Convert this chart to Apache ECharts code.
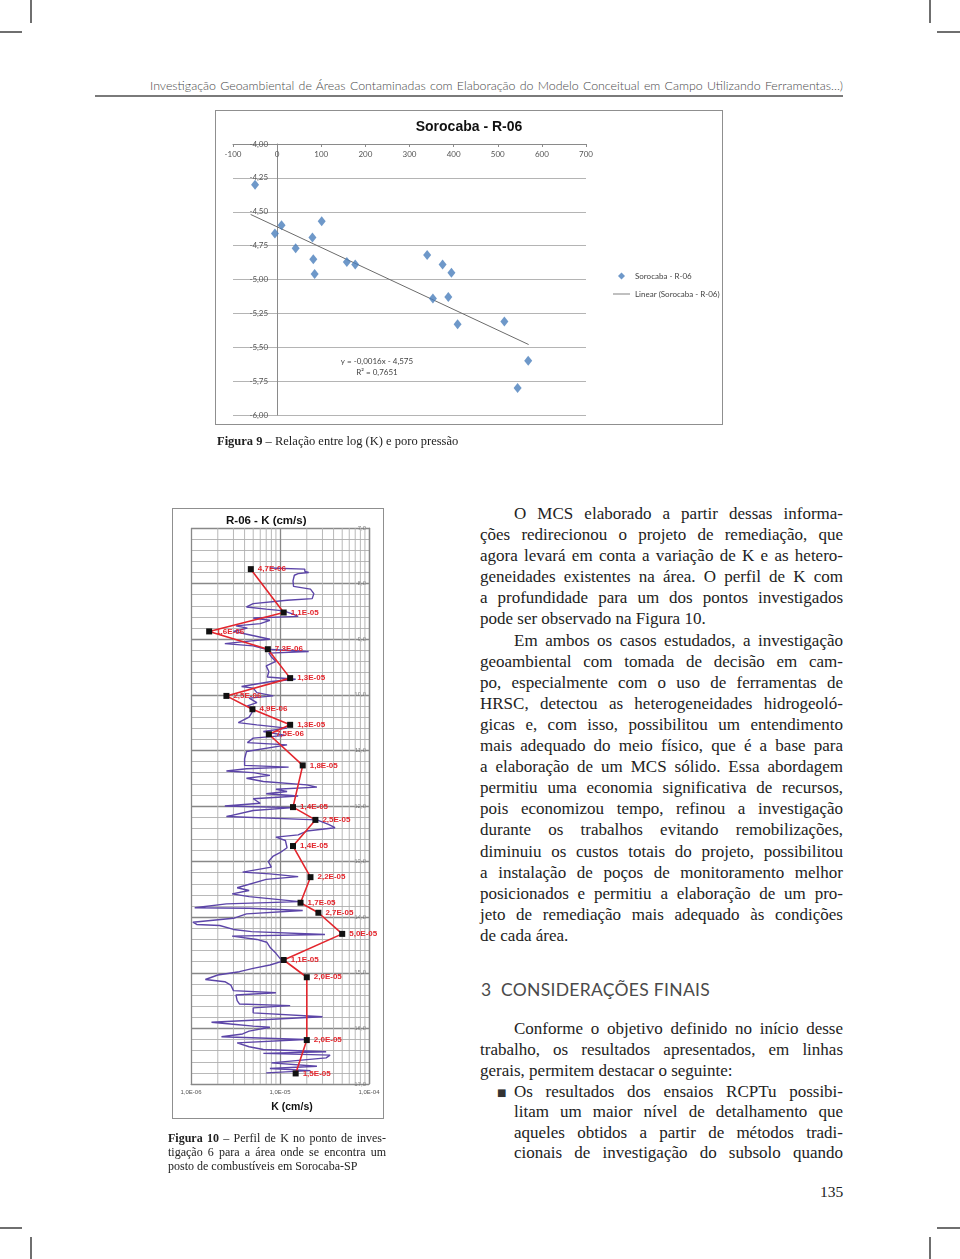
<!DOCTYPE html>
<html lang="pt-BR">
<head>
<meta charset="utf-8">
<title>Figura 9 e Figura 10 - Sorocaba R-06</title>
<script src="https://cdn.jsdelivr.net/npm/echarts@6/dist/echarts.min.js"></script>
<style>
html, body { margin: 0; padding: 0; background: #fff; }
#page { position: relative; width: 960px; height: 1259px; overflow: hidden; font-family: "Liberation Serif", serif; color: #222; }
.crop { position: absolute; background: #6f6f6f; }
#cabecalho { position: absolute; left: 150px; top: 78px; width: 693px; font-family: Lato, sans-serif; font-weight: 300; font-size: 12.4px; color: #4a4a4a; text-align: justify; text-align-last: justify; }
#regua { position: absolute; left: 95px; top: 95px; width: 748px; height: 1.5px; background: #7a7a7a; }
.grafico { position: absolute; }
.caixa { position: absolute; border: 1.5px solid #8f8f8f; box-sizing: border-box; pointer-events: none; }
#leg9 { position: absolute; left: 217px; top: 434px; font-size: 12.5px; }
#leg10 { position: absolute; left: 168px; top: 1131px; width: 218px; font-size: 12px; line-height: 14px; }
#leg10 div, .texto div { text-align: justify; text-align-last: justify; }
.texto { position: absolute; left: 480px; width: 363px; font-size: 17px; line-height: 21.1px; }
.texto .ind { text-indent: 34px; }
.texto .fim, #leg10 .fim { text-align-last: left; }
#titulo3 { position: absolute; left: 481px; top: 979px; font-family: Lato, sans-serif; font-size: 17.5px; color: #4a4a4a; letter-spacing: 0.3px; }
#topico { position: absolute; left: 514px; top: 1082px; width: 329px; font-size: 17px; line-height: 20.4px; }
#topico div { text-align: justify; text-align-last: justify; }
#marcador { position: absolute; left: 497px; top: 1083px; font-family: "DejaVu Sans", sans-serif; font-size: 10px; line-height: 20px; color: #333; }
#pagina { position: absolute; left: 820px; top: 1183px; font-size: 15.5px; }
</style>
</head>
<body>
<div id="page">
    <div class="crop" style="left:30px;top:0;width:1.5px;height:23px"></div>
    <div class="crop" style="left:0;top:31px;width:22px;height:1.5px"></div>
    <div class="crop" style="left:929px;top:0;width:1.5px;height:23px"></div>
    <div class="crop" style="left:937px;top:31px;width:23px;height:1.5px"></div>
    <div class="crop" style="left:30px;top:1237px;width:1.5px;height:22px"></div>
    <div class="crop" style="left:0;top:1227px;width:22px;height:1.5px"></div>
    <div class="crop" style="left:929px;top:1237px;width:1.5px;height:22px"></div>
    <div class="crop" style="left:937px;top:1227px;width:23px;height:1.5px"></div>

    <div id="cabecalho">Investigação Geoambiental de Áreas Contaminadas com Elaboração do Modelo Conceitual em Campo Utilizando Ferramentas...)</div>
    <div id="regua"></div>

    <div id="fig9" class="grafico" style="left:215px;top:110px;width:508px;height:315px"></div>
    <div class="caixa" style="left:215px;top:110px;width:508px;height:315px"></div>
    <div id="leg9"><b>Figura 9</b> – Relação entre log (K) e poro pressão</div>

    <div id="fig10" class="grafico" style="left:172px;top:508px;width:212px;height:611px"></div>
    <div class="caixa" style="left:172px;top:508px;width:212px;height:611px"></div>
    <div id="leg10">
        <div><b>Figura 10</b> – Perfil de K no ponto de inves-</div>
        <div>tigação 6 para a área onde se encontra um</div>
        <div class="fim">posto de combustíveis em Sorocaba-SP</div>
    </div>

    <div class="texto" style="top:503px">
        <div class="ind">O MCS elaborado a partir dessas informa-</div>
        <div>ções redirecionou o projeto de remediação, que</div>
        <div>agora levará em conta a variação de K e as hetero-</div>
        <div>geneidades existentes na área. O perfil de K com</div>
        <div>a profundidade para um dos pontos investigados</div>
        <div class="fim">pode ser observado na Figura 10.</div>
        <div class="ind">Em ambos os casos estudados, a investigação</div>
        <div>geoambiental com tomada de decisão em cam-</div>
        <div>po, especialmente com o uso de ferramentas de</div>
        <div>HRSC, detectou as heterogeneidades hidrogeoló-</div>
        <div>gicas e, com isso, possibilitou um entendimento</div>
        <div>mais adequado do meio físico, que é a base para</div>
        <div>a elaboração de um MCS sólido. Essa abordagem</div>
        <div>permitiu uma economia significativa de recursos,</div>
        <div>pois economizou tempo, refinou a investigação</div>
        <div>durante os trabalhos evitando remobilizações,</div>
        <div>diminuiu os custos totais do projeto, possibilitou</div>
        <div>a instalação de poços de monitoramento melhor</div>
        <div>posicionados e permitiu a elaboração de um pro-</div>
        <div>jeto de remediação mais adequado às condições</div>
        <div class="fim">de cada área.</div>
    </div>

    <div id="titulo3">3&nbsp; CONSIDERAÇÕES FINAIS</div>

    <div class="texto" style="top:1019px;line-height:20.8px">
        <div class="ind">Conforme o objetivo definido no início desse</div>
        <div>trabalho, os resultados apresentados, em linhas</div>
        <div class="fim">gerais, permitem destacar o seguinte:</div>
    </div>
    <div id="marcador">■</div>
    <div id="topico">
        <div>Os resultados dos ensaios RCPTu possibi-</div>
        <div>litam um maior nível de detalhamento que</div>
        <div>aqueles obtidos a partir de métodos tradi-</div>
        <div>cionais de investigação do subsolo quando</div>
    </div>

    <div id="pagina">135</div>
</div>

<script>
// ---- Figura 9: log(K) x poro pressao ----
const poroPressao = [-50, -5, 10, 42, 80, 101, 82, 85, 158, 177, 340, 375, 395, 353, 388, 409, 515, 569, 545];
const logK = [-4.30, -4.66, -4.60, -4.77, -4.69, -4.57, -4.85, -4.96, -4.87, -4.89, -4.82, -4.89, -4.95, -5.14, -5.13, -5.33, -5.31, -5.60, -5.80];
// extremos da reta de tendencia
const linearX = [-60, 570];
const linearY = [-4.52, -5.48];
const equacao = ['y = -0,0016x - 4,575', 'R² = 0,7651'];

// ---- Figura 10: perfil de K com a profundidade ----
const perfilK = [
    7.7e-6, 1.9e-5, 1.9e-5, 2.1e-5, 1.6e-5, 1.45e-5, 1.4e-5, 1.42e-5, 2.2e-5, 2.4e-5,
    2.3e-5, 1.2e-5, 5.0e-6, 4.2e-6, 7.0e-6, 1.1e-5, 1.4e-5, 1.6e-5, 5.0e-6, 7.7e-6,
    6.0e-6, 3.2e-6, 4.3e-6, 3.0e-6, 4.5e-6, 7.7e-6, 4.8e-6, 2.4e-6, 5.0e-6, 7.0e-6,
    2.1e-5, 7.5e-6, 8.0e-6, 9.0e-6, 7.0e-6, 7.5e-6, 7.2e-6, 1.5e-5, 8.0e-6, 3.7e-6,
    5.0e-6, 5.5e-6, 8.4e-6, 4.5e-6, 5.5e-6, 4.3e-6, 5.0e-6, 4.5e-6, 3.4e-6, 5.5e-6,
    1.2e-5, 6.5e-6, 1.15e-5, 5.0e-6, 4.3e-6, 1.2e-5, 4.2e-6, 4.0e-6, 4.0e-6, 1.25e-5,
    4.2e-6, 2.5e-6, 5.0e-6, 7.7e-6, 4.2e-6, 6.5e-6, 2.0e-5, 2.6e-5, 9.0e-6, 1.2e-5,
    7.0e-6, 1.6e-5, 5.0e-6, 6.0e-6, 2.4e-6, 1.4e-5, 5.0e-6, 2.5e-6, 2.6e-5, 3.5e-5,
    4.15e-5, 2.0e-5, 1.6e-5, 9.0e-6, 1.15e-5, 1.2e-5, 1.0e-5, 8.4e-6, 7.4e-6, 8.0e-6,
    3.8e-6, 7.7e-6, 1.6e-5, 7.0e-6, 3.3e-6, 4.5e-6, 2.9e-6, 4.5e-6, 1.65e-5, 2.5e-6,
    1.1e-6, 4.5e-6, 1.8e-5, 4.2e-6, 3.0e-6, 1.05e-6, 1.16e-6, 2.1e-6, 3.0e-6, 4.8e-6,
    3.2e-5, 2.9e-6, 5.5e-6, 7.1e-6, 7.8e-6, 9.0e-6, 1.0e-5, 1.12e-5, 7.7e-6, 5.0e-6,
    3.5e-6, 2.0e-6, 1.45e-6, 2.4e-6, 2.8e-6, 3.0e-6, 9.0e-6, 3.2e-6, 3.3e-6, 3.5e-6,
    1.3e-5, 5.0e-6, 5.0e-6, 3.0e-5, 1.7e-6, 3.2e-6, 5.0e-6, 7.7e-6, 4.5e-6, 3.8e-6,
    2.2e-6, 1.9e-5, 3.3e-6, 4.5e-6, 6.5e-6, 3.3e-5, 6.5e-6, 3.65e-5, 3.3e-5, 8.0e-6,
    2.6e-5, 7.7e-6, 2.2e-5, 7.0e-6
];
const perfilProf = [
    7.72, 7.74, 7.78, 7.80, 7.82, 7.85, 7.95, 8.05, 8.10, 8.18,
    8.27, 8.30, 8.36, 8.42, 8.46, 8.49, 8.55, 8.59, 8.62, 8.66,
    8.72, 8.76, 8.80, 8.86, 8.92, 9.00, 9.03, 9.08, 9.12, 9.18,
    9.22, 9.25, 9.32, 9.40, 9.48, 9.58, 9.68, 9.72, 9.76, 9.85,
    9.88, 9.96, 10.02, 10.06, 10.14, 10.20, 10.28, 10.40, 10.50, 10.54,
    10.60, 10.66, 10.73, 10.78, 10.86, 10.90, 11.02, 11.15, 11.27, 11.30,
    11.33, 11.37, 11.40, 11.45, 11.50, 11.56, 11.62, 11.66, 11.70, 11.74,
    11.78, 11.82, 11.87, 11.95, 12.00, 12.03, 12.08, 12.19, 12.25, 12.33,
    12.39, 12.45, 12.52, 12.56, 12.62, 12.75, 12.84, 12.90, 13.00, 13.10,
    13.19, 13.22, 13.27, 13.32, 13.47, 13.52, 13.58, 13.63, 13.72, 13.76,
    13.83, 13.84, 13.88, 13.94, 14.02, 14.09, 14.13, 14.15, 14.22, 14.26,
    14.31, 14.34, 14.40, 14.45, 14.55, 14.65, 14.74, 14.78, 14.86, 14.92,
    14.98, 15.04, 15.12, 15.16, 15.22, 15.32, 15.36, 15.40, 15.50, 15.56,
    15.59, 15.63, 15.72, 15.79, 15.89, 15.93, 15.96, 15.98, 16.05, 16.10,
    16.15, 16.20, 16.26, 16.33, 16.38, 16.42, 16.45, 16.48, 16.53, 16.62,
    16.68, 16.72, 16.76, 16.80
];
// ensaios pontuais (quadrados pretos / linha vermelha)
const ensaioK = [4.7e-6, 1.1e-5, 1.6e-6, 7.3e-6, 1.3e-5, 2.5e-6, 4.9e-6, 1.3e-5, 7.5e-6, 1.8e-5, 1.4e-5,
    2.5e-5, 1.4e-5, 2.2e-5, 1.7e-5, 2.7e-5, 5.0e-5, 1.1e-5, 2.0e-5, 2.0e-5, 1.5e-5];
const ensaioProf = [7.74, 8.52, 8.86, 9.18, 9.70, 10.02, 10.26, 10.54, 10.71, 11.27, 12.02,
    12.25, 12.72, 13.28, 13.74, 13.92, 14.30, 14.77, 15.08, 16.21, 16.81];
// linhas de grade secundarias do eixo log (2..9 de cada decada)
const decadas = [1e-6, 1e-5];
const subdivisoes = [2, 3, 4, 5, 6, 7, 8, 9];
const profMin = 7, profMax = 17;

const fonteExcel = 'Lato, sans-serif';
const fonteArial = '"Liberation Sans", Arial, sans-serif';
const virgula = (v, d) => v.toFixed(d).replace('.', ',');
const formatoE = (k) => {
    const partes = k.toExponential(1).split('e');
    const exp = parseInt(partes[1], 10);
    return partes[0].replace('.', ',') + 'E' + (exp < 0 ? '-' : '+') + String(Math.abs(exp)).padStart(2, '0');
};

// encaixa as linhas justificadas na largura da coluna
function ajustaLinhas (seletor) {
    document.querySelectorAll(seletor).forEach(linha => {
        const alvo = linha.clientWidth;
        linha.style.display = 'inline-block';
        linha.style.whiteSpace = 'nowrap';
        linha.style.width = 'auto';
        const natural = linha.getBoundingClientRect().width;
        linha.style.display = '';
        linha.style.whiteSpace = '';
        linha.style.width = '';
        if (natural > alvo - 1) {
            const n = linha.textContent.trim().length;
            linha.style.letterSpacing = ((alvo - 1.5 - natural) / n) + 'px';
        }
    });
}
ajustaLinhas('.texto div');
ajustaLinhas('#topico div');
ajustaLinhas('#leg10 div');

const chart9 = echarts.init(document.getElementById('fig9'));
chart9.setOption({
    animation: false,
    textStyle: { fontFamily: fonteExcel },
    title: {
        text: 'Sorocaba - R-06',
        left: 'center',
        top: 5,
        textStyle: { fontSize: 14, fontWeight: 'bold', color: '#111', fontFamily: fonteArial }
    },
    grid: { left: 18, top: 34, width: 353, height: 271, outerBoundsMode: 'none' },
    legend: {
        orient: 'vertical',
        left: 393,
        top: 157,
        itemWidth: 17,
        itemHeight: 7,
        itemGap: 10,
        symbolKeepAspect: true,
        textStyle: { fontSize: 8, color: '#444' },
        data: [
            { name: 'Sorocaba - R-06', icon: 'path://M5,0L10,5L5,10L0,5Z' },
            { name: 'Linear (Sorocaba - R-06)', icon: 'path://M0,0L20,0L20,1L0,1Z' }
        ]
    },
    xAxis: {
        type: 'value',
        position: 'top',
        min: -100,
        max: 700,
        interval: 100,
        axisLine: { onZero: false, lineStyle: { color: '#8a8a8a' } },
        axisTick: { show: true, inside: true, length: 3, lineStyle: { color: '#8a8a8a' } },
        axisLabel: { inside: true, margin: 6, fontSize: 8, color: '#555' },
        splitLine: { show: false }
    },
    yAxis: {
        type: 'value',
        min: -6,
        max: -4,
        interval: 0.25,
        // o eixo cruza em x = 0 (100 unidades a direita de -100)
        offset: -353 * 100 / 800,
        axisLine: { show: true, onZero: false, lineStyle: { color: '#8a8a8a' } },
        axisTick: { show: false },
        axisLabel: { fontSize: 8, color: '#555', margin: 9, formatter: v => virgula(v, 2) },
        splitLine: { show: true, lineStyle: { color: '#b4b4b4', width: 1 } }
    },
    graphic: [
        { type: 'text', x: 162, y: 251, style: { text: equacao[0], align: 'center', verticalAlign: 'middle', fontSize: 8, fill: '#444', fontFamily: fonteExcel } },
        { type: 'text', x: 162, y: 262, style: { text: equacao[1], align: 'center', verticalAlign: 'middle', fontSize: 8, fill: '#444', fontFamily: fonteExcel } }
    ],
    series: [
        {
            name: 'Sorocaba - R-06',
            type: 'scatter',
            symbol: 'diamond',
            symbolSize: [8, 10],
            itemStyle: { color: '#4a7ebb' },
            data: poroPressao.map((x, i) => [x, logK[i]]),
            z: 3
        },
        {
            name: 'Linear (Sorocaba - R-06)',
            type: 'line',
            symbol: 'none',
            lineStyle: { color: '#6b6b6b', width: 1 },
            itemStyle: { color: '#6b6b6b' },
            data: linearX.map((x, i) => [x, linearY[i]]),
            z: 2
        }
    ]
});

const chart10 = echarts.init(document.getElementById('fig10'));
// grade vertical secundaria (2..9 x decada), desenhada como linhas finas de ponta a ponta
const gradeMenor = [];
decadas.forEach(d => subdivisoes.forEach(s => gradeMenor.push(d * s)));
const seriesGrade = gradeMenor.map(k => ({
    type: 'line',
    silent: true,
    symbol: 'none',
    lineStyle: { color: '#b0b0b0', width: 0.9 },
    data: [[k, profMin], [k, profMax]],
    z: 1
}));

chart10.setOption({
    animation: false,
    textStyle: { fontFamily: fonteArial },
    title: {
        text: 'R-06 - K (cm/s)',
        left: 49,
        top: 2,
        textStyle: { fontSize: 11.5, fontWeight: 'bold', color: '#111', fontFamily: fonteArial }
    },
    grid: { left: 19, top: 20, width: 178, height: 556, outerBoundsMode: 'none' },
    xAxis: {
        type: 'log',
        logBase: 10,
        min: 1e-6,
        max: 1e-4,
        axisLine: { show: true, lineStyle: { color: '#888' } },
        axisTick: { show: false },
        axisLabel: { fontSize: 6, color: '#555', margin: 5, formatter: v => formatoE(v) },
        splitLine: { show: true, lineStyle: { color: '#888', width: 1.3 } }
    },
    yAxis: {
        type: 'value',
        inverse: true,
        position: 'right',
        min: profMin,
        max: profMax,
        interval: 1,
        axisLine: { show: true, lineStyle: { color: '#888' } },
        axisTick: { show: false },
        minorTick: { show: false, splitNumber: 5 },
        axisLabel: { inside: true, margin: 3, fontSize: 6, color: '#777', formatter: v => virgula(v, 1) },
        splitLine: { show: true, lineStyle: { color: '#888', width: 1.3 } },
        minorSplitLine: { show: true, lineStyle: { color: '#b0b0b0', width: 0.9 } }
    },
    graphic: [
        { type: 'text', x: 120, y: 599, style: { text: 'K (cm/s)', align: 'center', verticalAlign: 'middle', fontSize: 10.5, fontWeight: 'bold', fill: '#111', fontFamily: fonteArial } }
    ],
    series: seriesGrade.concat([
        {
            name: 'perfil',
            type: 'line',
            symbol: 'none',
            lineStyle: { color: '#5c45a8', width: 1.4 },
            data: perfilK.map((k, i) => [k, perfilProf[i]]),
            z: 2
        },
        {
            name: 'ensaios',
            type: 'line',
            symbol: 'rect',
            symbolSize: 6,
            lineStyle: { color: '#e3262d', width: 1.6 },
            itemStyle: { color: '#111' },
            label: {
                show: true,
                position: 'right',
                distance: 4,
                color: '#e3262d',
                fontSize: 8,
                fontWeight: 'bold',
                formatter: p => formatoE(p.value[0])
            },
            data: ensaioK.map((k, i) => [k, ensaioProf[i]]),
            z: 3
        }
    ])
});

window.addEventListener('resize', () => {
    chart9.resize();
    chart10.resize();
});
</script>
</body>
</html>
